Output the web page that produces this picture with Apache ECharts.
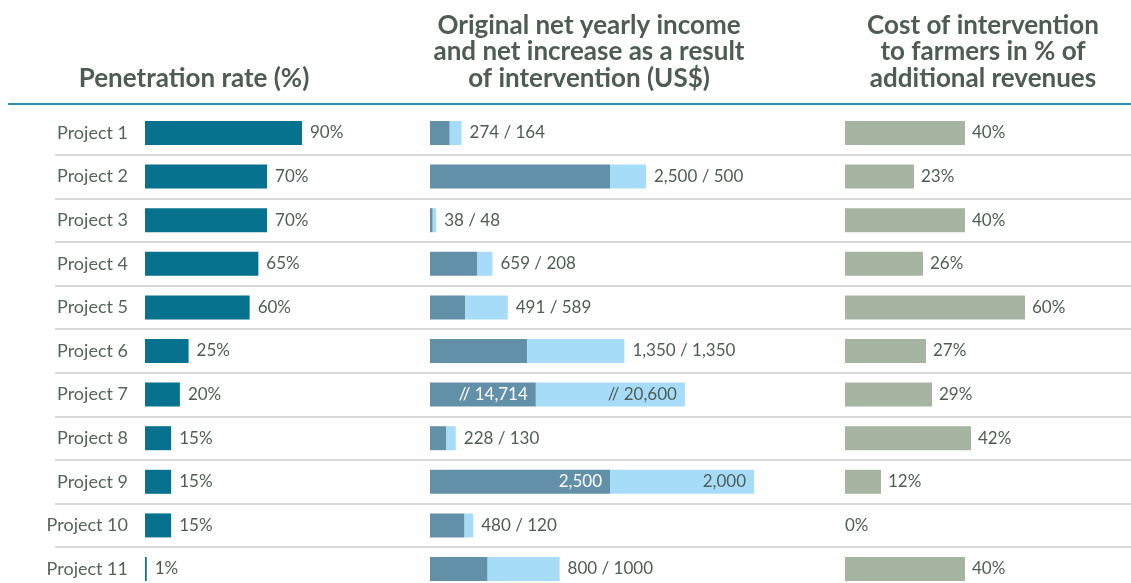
<!DOCTYPE html>
<html>
<head>
<meta charset="utf-8">
<script src="https://cdn.jsdelivr.net/npm/echarts@6/dist/echarts.min.js"></script>
<style>
html,body{margin:0;padding:0;background:#fff;}
#c{width:1131px;height:583px;}
</style>
</head>
<body>
<div id="c"></div>
<script>
// ---- data ----
var projects = ['Project 1','Project 2','Project 3','Project 4','Project 5','Project 6','Project 7','Project 8','Project 9','Project 10','Project 11'];
var penetrationRate = [90,70,70,65,60,25,20,15,15,15,1];
var originalIncome = [274,2500,38,659,491,1350,14714,228,2500,480,800];
var incomeIncrease = [164,500,48,208,589,1350,20600,130,2000,120,1000];
// Project 7 is drawn with truncated ("//") bars: lengths shown on the axis
var originalIncomeShown = [274,2500,38,659,491,1350,1470,228,2500,480,800];
var incomeIncreaseShown = [164,500,48,208,589,1350,2070,130,2000,120,1000];
// label texts as printed in the chart
var originalIncomeText = ['274','2,500','38','659','491','1,350','// 14,714','228','2,500','480','800'];
var incomeIncreaseText = ['164','500','48','208','589','1,350','// 20,600','130','2,000','120','1000'];
var labelsInside = [false,false,false,false,false,false,true,false,true,false,false];
var costShare = [40,23,40,26,60,27,29,42,12,0,40];

var FONT = 'Lato';
var TXT = '#4f5e55';
var VFS = 17;

var firstRow = 133, rowH = 43.6, n = projects.length;

var darkData = originalIncomeShown.map(function(v,i){
  if (labelsInside[i]) {
    return {value:v, label:{show:true, position:'insideRight', distance:8, color:'#ffffff',
      formatter:originalIncomeText[i]}};
  }
  return {value:v};
});
var lightData = incomeIncreaseShown.map(function(v,i){
  if (labelsInside[i]) {
    return {value:v, label:{show:true, position:'insideRight', distance:8, color:TXT,
      formatter:incomeIncreaseText[i]}};
  }
  return {value:v, label:{show:true, position:'right', distance:8, color:TXT,
    formatter: originalIncomeText[i] + ' / ' + incomeIncreaseText[i]}};
});
var costData = costShare.map(function(v){
  return {value:v, label:{distance: v === 0 ? 0 : 7}};
});

var hiddenX = function(idx,max){ return {type:'value', gridIndex:idx, min:0, max:max, show:false}; };
var hiddenY = function(idx){ return {type:'category', gridIndex:idx, data:projects, inverse:true, boundaryGap:false, show:false}; };

var chart = echarts.init(document.getElementById('c'), null, {renderer:'canvas'});
chart.setOption({
  animation:false,
  backgroundColor:'#ffffff',
  textStyle:{fontFamily:FONT},
  grid:[
    {left:145, top:firstRow, width:174.4, height:rowH*(n-1)},
    {left:430, top:firstRow, width:360, height:rowH*(n-1)},
    {left:845, top:firstRow, width:270, height:rowH*(n-1)},
    {left:55, top:firstRow+rowH/2, width:1076, height:rowH*(n-2)}
  ],
  xAxis:[hiddenX(0,100), hiddenX(1,5000), hiddenX(2,90),
    {type:'value', gridIndex:3, show:false}],
  yAxis:[
    {type:'category', gridIndex:0, data:projects, inverse:true, boundaryGap:false,
     axisLine:{show:false}, axisTick:{show:false}, splitLine:{show:false},
     axisLabel:{margin:17, color:'#56655b', fontSize:18, fontFamily:FONT}},
    hiddenY(1), hiddenY(2),
    {type:'category', gridIndex:3, data:projects.slice(1), inverse:true, boundaryGap:false,
     axisLine:{show:false}, axisTick:{show:false}, axisLabel:{show:false},
     splitLine:{show:true, lineStyle:{color:'#d9d9d9', width:2}}}
  ],
  graphic:[
    {type:'line', shape:{x1:8, y1:104, x2:1131, y2:104}, style:{stroke:'#2a8fa7', lineWidth:2}, z:10},
    {type:'text', x:194, y:78.5, style:{text:'Penetration rate (%)', align:'center', verticalAlign:'middle',
      textAlign:'center', textVerticalAlign:'middle', font:'bold 26px Lato', fill:'#4d5d54'}},
    {type:'text', x:589, y:52, style:{text:'Original net yearly income\nand net increase as a result\nof intervention (US$)',
      align:'center', verticalAlign:'middle', textAlign:'center', textVerticalAlign:'middle', lineHeight:26.5,
      font:'bold 26px Lato', fill:'#4d5d54'}},
    {type:'text', x:983, y:52, style:{text:'Cost of intervention\nto farmers in % of\nadditional revenues',
      align:'center', verticalAlign:'middle', textAlign:'center', textVerticalAlign:'middle', lineHeight:26.5,
      font:'bold 26px Lato', fill:'#4d5d54'}}
  ],
  series:[
    {type:'bar', xAxisIndex:0, yAxisIndex:0, data:penetrationRate, barWidth:24,
     itemStyle:{color:'#06728e'},
     label:{show:true, position:'right', distance:8, formatter:'{c}%', color:TXT, fontSize:VFS, fontFamily:FONT}},
    {type:'bar', xAxisIndex:1, yAxisIndex:1, stack:'income', data:darkData, barWidth:24,
     itemStyle:{color:'#6390a9'},
     label:{show:false, fontSize:VFS, fontFamily:FONT}},
    {type:'bar', xAxisIndex:1, yAxisIndex:1, stack:'income', data:lightData, barWidth:24,
     itemStyle:{color:'#a6dcf8'},
     label:{show:false, fontSize:VFS, fontFamily:FONT, color:TXT}},
    {type:'bar', xAxisIndex:2, yAxisIndex:2, data:costData, barWidth:24,
     itemStyle:{color:'#a6b4a2'},
     label:{show:true, position:'right', formatter:'{c}%', color:TXT, fontSize:VFS, fontFamily:FONT}}
  ]
});
</script>
</body>
</html>
